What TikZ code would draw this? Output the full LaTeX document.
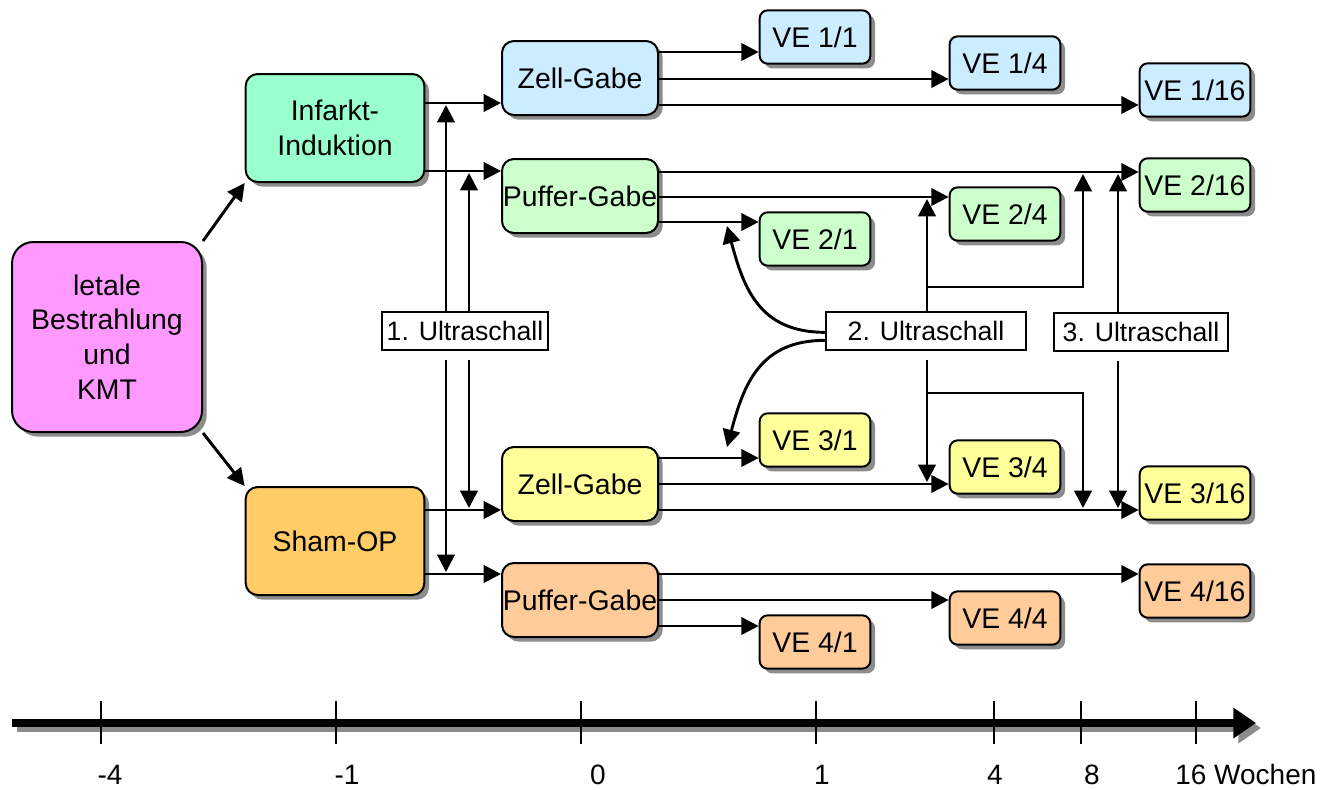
\documentclass[tikz,border=0pt]{standalone}
\usepackage{fontspec}
\setmainfont{Liberation Sans}
\usetikzlibrary{arrows.meta,shadows,calc}
\definecolor{cpink}{HTML}{FF99FF}
\definecolor{cmint}{HTML}{99FFCC}
\definecolor{csham}{HTML}{FFCC66}
\definecolor{cblue}{HTML}{CCECFF}
\definecolor{cgreen}{HTML}{CCFFCC}
\definecolor{cyellow}{HTML}{FFFF99}
\definecolor{corange}{HTML}{FFCC99}
\begin{document}
\begin{tikzpicture}[x=0.75pt,y=-0.75pt,
  shad/.style={drop shadow={shadow xshift=3.5pt,shadow yshift=-3.5pt,fill=black!45,opacity=1}},
  box/.style={draw=black,line width=1.5pt,rounded corners=9pt,align=center,inner sep=0pt,
    font=\fontsize{21.3}{26}\selectfont,shad},
  bigbox/.style={box,minimum width=134pt,minimum height=81pt},
  gabe/.style={box,minimum width=117pt,minimum height=55.5pt},
  ve/.style={box,rounded corners=6pt,minimum width=83pt,minimum height=40pt},
  us/.style={draw=black,line width=1.5pt,fill=white,inner sep=0pt,minimum height=28pt,
    font=\fontsize{20}{24}\selectfont},
  arr/.style={line width=2.2pt,-{Triangle[length=13pt,width=13pt]}},
  tick/.style={line width=1.1pt},
  lab/.style={font=\fontsize{21}{25}\selectfont,inner sep=0pt,anchor=base}]
\useasboundingbox (0,0) rectangle (1338,789);

% nodes
\node[box,rounded corners=16pt,fill=cpink,minimum width=142.5pt,minimum height=142.5pt] (let) at (107,337) {letale\\Bestrahlung\\und\\KMT};
\node[bigbox,fill=cmint] (inf) at (335,128) {Infarkt-\\Induktion};
\node[bigbox,fill=csham] (sham) at (335,541) {Sham-OP};
\node[gabe,fill=cblue] (zg1) at (580,78) {Zell-Gabe};
\node[gabe,fill=cgreen] (pg1) at (580,196) {Puffer-Gabe};
\node[gabe,fill=cyellow] (zg2) at (580,484) {Zell-Gabe};
\node[gabe,fill=corange] (pg2) at (580,600) {Puffer-Gabe};

\node[ve,fill=cblue] (v11) at (815,37) {VE 1/1};
\node[ve,fill=cblue] (v14) at (1005,63) {VE 1/4};
\node[ve,fill=cblue] (v116) at (1195,90) {VE 1/16};
\node[ve,fill=cgreen] (v216) at (1195,185) {VE 2/16};
\node[ve,fill=cgreen] (v24) at (1005,214) {VE 2/4};
\node[ve,fill=cgreen] (v21) at (815,239) {VE 2/1};
\node[ve,fill=cyellow] (v31) at (815,440) {VE 3/1};
\node[ve,fill=cyellow] (v34) at (1005,467) {VE 3/4};
\node[ve,fill=cyellow] (v316) at (1195,493) {VE 3/16};
\node[ve,fill=corange] (v416) at (1195,591) {VE 4/16};
\node[ve,fill=corange] (v44) at (1005,618) {VE 4/4};
\node[ve,fill=corange] (v41) at (815,642) {VE 4/1};

\node[us,minimum width=124pt] (us1) at (465,331) {1. Ultraschall};
\node[us,minimum width=150pt] (us2) at (926,331) {2. Ultraschall};
\node[us,minimum width=130pt] (us3) at (1141,332) {3. Ultraschall};

% left arrows
\draw[arr] (let.north east) -- (inf.south west);
\draw[arr] (let.south east) -- (sham.north west);

% to Gabe boxes
\draw[arr] (inf.east |- 0,103) -- (zg1.west |- 0,103);
\draw[arr] (inf.east |- 0,171) -- (pg1.west |- 0,171);
\draw[arr] (sham.east |- 0,510) -- (zg2.west |- 0,510);
\draw[arr] (sham.east |- 0,574) -- (pg2.west |- 0,574);

% Gabe -> VE
\draw[arr] (zg1.east |- 0,52) -- (v11.west |- 0,52);
\draw[arr] (zg1.east |- 0,79) -- (v14.west |- 0,79);
\draw[arr] (zg1.east |- 0,105) -- (v116.west |- 0,105);
\draw[arr] (pg1.east |- 0,172) -- (v216.west |- 0,172);
\draw[arr] (pg1.east |- 0,197) -- (v24.west |- 0,197);
\draw[arr] (pg1.east |- 0,222) -- (v21.west |- 0,222);
\draw[arr] (zg2.east |- 0,458) -- (v31.west |- 0,458);
\draw[arr] (zg2.east |- 0,484) -- (v34.west |- 0,484);
\draw[arr] (zg2.east |- 0,510) -- (v316.west |- 0,510);
\draw[arr] (pg2.east |- 0,574) -- (v416.west |- 0,574);
\draw[arr] (pg2.east |- 0,600) -- (v44.west |- 0,600);
\draw[arr] (pg2.east |- 0,626) -- (v41.west |- 0,626);

% 1. Ultraschall
\coordinate (a1) at (446,105);
\coordinate (a2) at (469,173);
\coordinate (a3) at (446,572);
\coordinate (a4) at (469,508);
\draw[arr] (us1.north -| a1) -- (a1);
\draw[arr] (us1.north -| a2) -- (a2);
\draw[arr] ([yshift=-7pt]us1.south -| a3) -- (a3);
\draw[arr] ([yshift=-7pt]us1.south -| a4) -- (a4);

% 2. Ultraschall
\coordinate (b1) at (727,226);
\coordinate (b2) at (727,447);
\draw[arr] ([yshift=-1pt]us2.west) to[out=180,in=-75,looseness=1.15] (b1);
\draw[arr] ([yshift=-7pt]us2.west) to[out=180,in=75,looseness=1.15] (b2);
\coordinate (b3) at (927,199);
\coordinate (b4) at (927,287);
\coordinate (b5) at (1083,174);
\coordinate (b6) at (927,482);
\coordinate (b7) at (927,393);
\coordinate (b8) at (1083,508);
\draw[arr] (us2.north -| b3) -- (b3);
\draw[arr] (b4) -| (b5);
\draw[arr] ([yshift=-7pt]us2.south -| b6) -- (b6);
\draw[arr] (b7) -| (b8);

% 3. Ultraschall
\coordinate (c1) at (1118,174);
\coordinate (c2) at (1118,508);
\draw[arr] (us3.north -| c1) -- (c1);
\draw[arr] ([yshift=-7pt]us3.south -| c2) -- (c2);

% time axis
\coordinate (ax0) at (12,723);
\coordinate (ax1) at (1256,723);
\draw[line width=6pt,black!45,-{Triangle[length=17pt,width=22pt]}] ([shift={(5,5)}]ax0) -- ([shift={(5,5)}]ax1);
\draw[line width=6pt,black,-{Triangle[length=17pt,width=22pt]}] (ax0) -- (ax1);
\foreach \x/\n in {101/t1,336/t2,581/t3,816/t4,994/t5,1081/t6,1196/t7}
  \draw[tick] (\x,701) coordinate (\n a) -- (\x,744) coordinate (\n b);
\node[lab] (l1) at (110,784) {-4};
\node[lab] (l2) at (347,784) {-1};
\node[lab] (l3) at (598,784) {0};
\node[lab] (l4) at (822,784) {1};
\node[lab] (l5) at (995,784) {4};
\node[lab] (l6) at (1092,784) {8};
\node[lab,anchor=base west] (l7) at (1175,784) {16 Wochen};
\end{tikzpicture}
\end{document}
